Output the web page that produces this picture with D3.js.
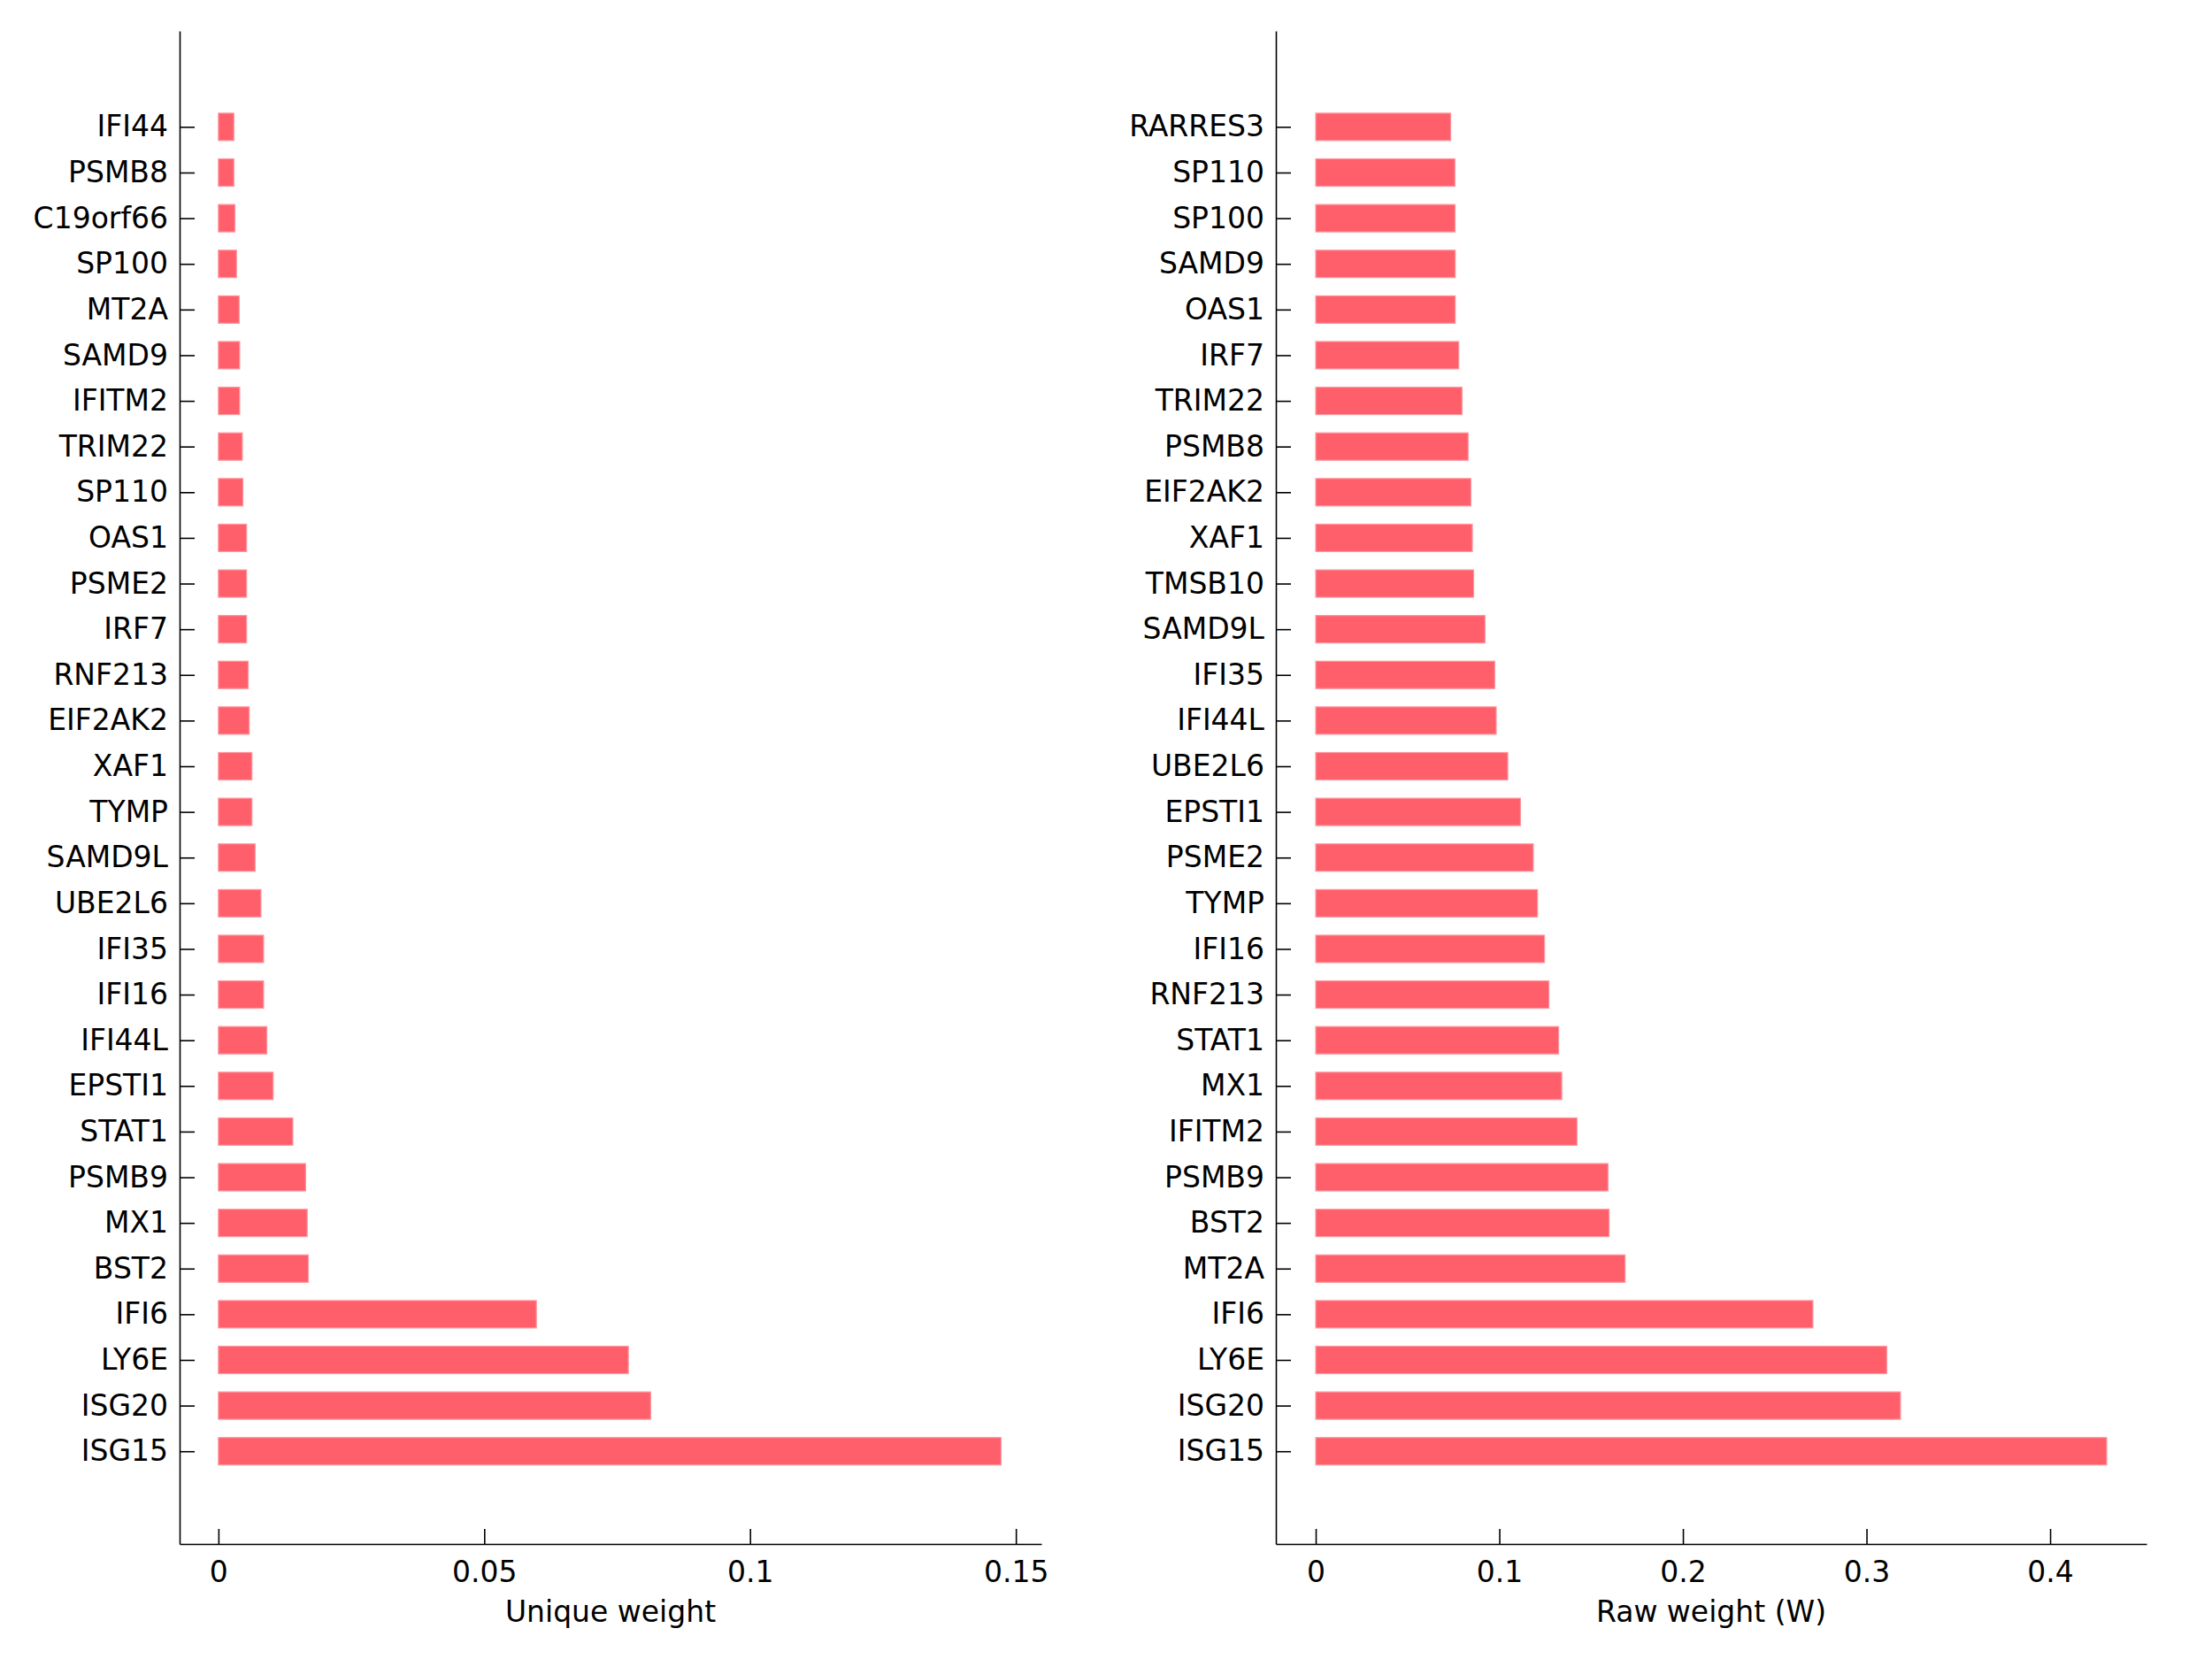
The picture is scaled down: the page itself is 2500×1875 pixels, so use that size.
<!DOCTYPE html>
<html>
<head>
<meta charset="utf-8">
<script src="https://cdn.jsdelivr.net/npm/d3@7"></script>
<style>
  body { margin: 0; background: #fff; }
  svg { display: block; }
  text { font-family: "DejaVu Sans", sans-serif; fill: #000; }
</style>
</head>
<body>
<div class="viz"></div>
<script>
// top to bottom order, as in the picture
const uniqueGenes = ["IFI44","PSMB8","C19orf66","SP100","MT2A","SAMD9","IFITM2","TRIM22","SP110","OAS1",
  "PSME2","IRF7","RNF213","EIF2AK2","XAF1","TYMP","SAMD9L","UBE2L6","IFI35","IFI16",
  "IFI44L","EPSTI1","STAT1","PSMB9","MX1","BST2","IFI6","LY6E","ISG20","ISG15"]
const uniqueWeights = [0.0029,0.0029,0.0031,0.0034,0.0039,0.0040,0.0040,0.0045,0.0046,0.0053,
  0.0053,0.0053,0.0056,0.0058,0.0063,0.0063,0.0069,0.0080,0.0085,0.0085,
  0.0091,0.0103,0.0140,0.0164,0.0167,0.0169,0.0598,0.0771,0.0813,0.1472]

const rawGenes = ["RARRES3","SP110","SP100","SAMD9","OAS1","IRF7","TRIM22","PSMB8","EIF2AK2","XAF1",
  "TMSB10","SAMD9L","IFI35","IFI44L","UBE2L6","EPSTI1","PSME2","TYMP","IFI16","RNF213",
  "STAT1","MX1","IFITM2","PSMB9","BST2","MT2A","IFI6","LY6E","ISG20","ISG15"]
const rawWeights = [0.0735,0.0758,0.0759,0.0760,0.0760,0.0779,0.0797,0.0830,0.0845,0.0853,
  0.0860,0.0922,0.0975,0.0983,0.1046,0.1115,0.1185,0.1208,0.1246,0.1270,
  0.1323,0.1340,0.1423,0.1592,0.1598,0.1685,0.2708,0.3110,0.3185,0.4308]

const uniqueTicks = [0, 0.05, 0.1, 0.15]
const rawTicks = [0, 0.1, 0.2, 0.3, 0.4]

var w = 2500
var h = 1875

const svg = d3.select(".viz")
  .append("svg")
  .attr("width", w)
  .attr("height", h)

// gene at bottom is position 1
var y = d3.scaleLinear().domain([-1.03, 32.1]).range([1745, 35])
const pos = (i, n) => n - i

const drawPanel = (genes, vals, xDomain, xRange, ticks, title) => {
  var x = d3.scaleLinear().domain(xDomain).range(xRange)
  const g = svg.append("g")
  const n = genes.length

  g.selectAll("rect")
    .data(vals)
    .enter()
    .append("rect")
    .attr("x", x(0))
    .attr("y", (d, i) => y(pos(i, n) + 0.3))
    .attr("width", d => x(d) - x(0))
    .attr("height", y(0) - y(0.6))
    .attr("fill", "#ff5f6b")
    .attr("stroke", "#ff97a0")
    .attr("stroke-width", 1.2)

  const yAxis = d3.axisLeft(y)
    .tickValues(genes.map((d, i) => pos(i, n)))
    .tickFormat((d) => genes[n - d])
    .tickSizeInner(-17)
    .tickSizeOuter(0)
    .tickPadding(13)
  g.append("g")
    .attr("transform", `translate(${xRange[0]},0)`)
    .call(yAxis)

  const xAxis = d3.axisBottom(x)
    .tickValues(ticks)
    .tickFormat(d3.format("~g"))
    .tickSizeInner(-17)
    .tickSizeOuter(0)
    .tickPadding(20)
  g.append("g")
    .attr("transform", `translate(0,${y(-1.03)})`)
    .call(xAxis)

  g.selectAll(".tick text").style("font-size", "33px").style("font-family", "DejaVu Sans")
  g.selectAll(".domain, .tick line").attr("stroke", "#000").attr("stroke-width", 1.6)

  g.append("text")
    .attr("x", (xRange[0] + xRange[1]) / 2)
    .attr("y", 1833)
    .attr("text-anchor", "middle")
    .style("font-size", "33px")
    .text(title)
}

drawPanel(uniqueGenes, uniqueWeights, [-0.0073, 0.1548], [203, 1177], uniqueTicks, "Unique weight")
drawPanel(rawGenes, rawWeights, [-0.0217, 0.4525], [1442, 2426], rawTicks, "Raw weight (W)")
</script>
</body>
</html>
